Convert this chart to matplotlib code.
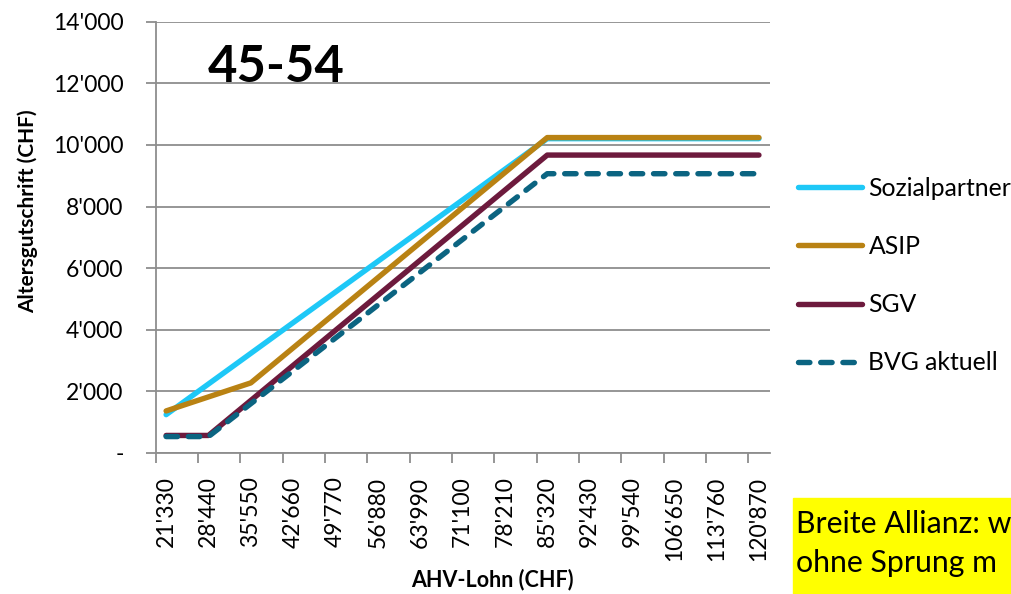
import matplotlib
matplotlib.use("Agg")
from matplotlib import pyplot as plt
from matplotlib.patches import Rectangle
import numpy as np

plt.rcParams['font.family'] = ['Lato', 'DejaVu Sans']

# AHV-Lohn (CHF), one point every 3'555
salaries = [21330, 24885, 28440, 31995, 35550, 39105, 42660, 46215, 49770,
            53325, 56880, 60435, 63990, 67545, 71100, 74655, 78210, 81765,
            85320, 88875, 92430, 95985, 99540, 103095, 106650, 110205,
            113760, 117315, 120870]

sozialpartner = [1244, 1742, 2240, 2737, 3235, 3733, 4231, 4728, 5226, 5724,
                 6221, 6719, 7217, 7715, 8212, 8710, 9208, 9705, 10203, 10203,
                 10203, 10203, 10203, 10203, 10203, 10203, 10203, 10203, 10203]
asip = [1365, 1593, 1820, 2048, 2275, 2844, 3413, 3982, 4550, 5119, 5688,
        6257, 6826, 7394, 7963, 8532, 9101, 9670, 10238, 10238, 10238, 10238,
        10238, 10238, 10238, 10238, 10238, 10238, 10238]
sgv = [569, 569, 569, 1138, 1706, 2275, 2844, 3413, 3982, 4550, 5119, 5688,
       6257, 6826, 7394, 7963, 8532, 9101, 9670, 9670, 9670, 9670, 9670, 9670,
       9670, 9670, 9670, 9670, 9670]
bvg_aktuell = [533, 533, 533, 1067, 1600, 2133, 2666, 3200, 3733, 4266, 4799,
               5333, 5866, 6399, 6932, 7466, 7999, 8532, 9065, 9065, 9065, 9065,
               9065, 9065, 9065, 9065, 9065, 9065, 9065]

y_ticks = [0, 2000, 4000, 6000, 8000, 10000, 12000, 14000]

GRAY = '#8e8e8e'


def chf(v):
    return "-" if v == 0 else f"{v:,}".replace(",", "'")


fig = plt.figure(figsize=(10.12, 5.94), dpi=100)
ax = fig.add_axes([0.1537, 0.2374, 0.6067, 0.7261])

x = np.arange(len(salaries))
lw = 3.9
ax.plot(x, sozialpartner, color='#1ec8f7', lw=lw, solid_capstyle='round',
        label='Sozialpartner')
ax.plot(x, asip, color='#b98213', lw=lw, solid_capstyle='round', label='ASIP')
ax.plot(x, sgv, color='#6d1a3d', lw=lw, solid_capstyle='round', label='SGV')
ax.plot(x, bvg_aktuell, color='#0b6481', lw=lw, dashes=(2.1, 2.0),
        dash_capstyle='round', label='BVG aktuell')

ax.set_xlim(-0.5, len(salaries) - 0.5)
ax.set_ylim(0, 14000)

ax.set_yticks(y_ticks)
ax.set_yticklabels([chf(v) for v in y_ticks])
ax.yaxis.grid(True, color=GRAY, lw=1.3)
ax.set_axisbelow(True)

ax.set_xticks(x[::2])
ax.set_xticklabels([chf(s) for s in salaries[::2]], rotation=90)
ax.set_xticks(np.arange(-0.5, len(salaries) - 1, 2), minor=True)
ax.tick_params(axis='x', which='major', length=0, pad=17, labelsize=16.5)
ax.tick_params(axis='x', which='minor', length=7, width=1.3, color=GRAY)
ax.tick_params(axis='y', length=7, width=1.3, color=GRAY, pad=16,
               labelsize=16.5)

for s in ['top', 'right']:
    ax.spines[s].set_visible(False)
for s in ['left', 'bottom']:
    ax.spines[s].set_color(GRAY)
    ax.spines[s].set_linewidth(1.3)

fig.text(28 / 1012, 1 - 211 / 594, 'Altersgutschrift (CHF)', rotation=90,
         ha='center', va='center', fontsize=15, fontweight='bold')
fig.text(492 / 1012, 1 - 580 / 594, 'AHV-Lohn (CHF)', ha='center',
         va='center', fontsize=15.5, fontweight='bold')
fig.text(208 / 1012, 1 - 82 / 594, '45-54', ha='left', va='baseline',
         fontsize=36.5, fontweight='bold')

fig.legend(loc='upper left', bbox_to_anchor=(798 / 1012, 1 - 177 / 594),
           frameon=False, fontsize=17.8, handlelength=2.6, handletextpad=0.25,
           labelspacing=1.42, borderaxespad=0, borderpad=0)

fig.patches.append(Rectangle((793 / 1012, 0), 1 - 793 / 1012, 96 / 594,
                             transform=fig.transFigure, color='#ffff00',
                             zorder=0))
fig.text(796 / 1012, 1 - 533 / 594, 'Breite Allianz: w', ha='left',
         va='baseline', fontsize=21.8)
fig.text(796 / 1012, 1 - 572 / 594, 'ohne Sprung m', ha='left',
         va='baseline', fontsize=21.8)

fig.savefig('out.png', dpi=100)
